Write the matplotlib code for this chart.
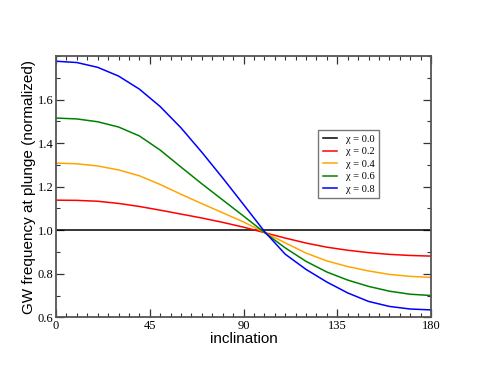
import numpy as np
import matplotlib
matplotlib.use("Agg")
import matplotlib.pyplot as plt
from matplotlib.ticker import MultipleLocator, FixedFormatter, FixedLocator

# inclination (deg) and normalized GW frequency at plunge
incl = [0, 10, 20, 30, 40, 50, 60, 70, 80, 90, 100, 110, 120, 130, 140, 150, 160, 170, 180]
chi_00 = [1.0] * len(incl)
chi_02 = [1.138, 1.137, 1.133, 1.123, 1.109, 1.092, 1.074, 1.056, 1.036, 1.014, 0.989,
          0.964, 0.941, 0.922, 0.908, 0.897, 0.889, 0.884, 0.881]
chi_04 = [1.308, 1.305, 1.295, 1.277, 1.250, 1.210, 1.165, 1.122, 1.080, 1.038, 0.990,
          0.942, 0.895, 0.859, 0.833, 0.813, 0.797, 0.788, 0.783]
chi_06 = [1.515, 1.511, 1.498, 1.474, 1.433, 1.368, 1.290, 1.213, 1.139, 1.065, 0.990,
          0.919, 0.857, 0.808, 0.771, 0.742, 0.720, 0.706, 0.700]
chi_08 = [1.776, 1.770, 1.748, 1.708, 1.648, 1.568, 1.470, 1.358, 1.240, 1.118, 0.995,
          0.890, 0.820, 0.762, 0.712, 0.673, 0.650, 0.638, 0.634]

series = [chi_00, chi_02, chi_04, chi_06, chi_08]
labels = ["χ = 0.0", "χ = 0.2", "χ = 0.4", "χ = 0.6", "χ = 0.8"]
colors = ["black", "red", "orange", "green", "blue"]

fig = plt.figure(figsize=(4.85, 3.74), dpi=100)
ax = fig.add_axes([56 / 485, 1 - 317.3 / 374, (431 - 56) / 485, (317.3 - 56) / 374])

for y, lab, c in zip(series, labels, colors):
    ax.plot(incl, y, color=c, lw=1.1, label=lab)

ax.set_xlim(0, 180)
ax.set_ylim(0.6, 1.8)

ax.xaxis.set_major_locator(MultipleLocator(45))
ax.xaxis.set_minor_locator(MultipleLocator(5))
ax.yaxis.set_major_locator(FixedLocator([0.6, 0.8, 1.0, 1.2, 1.4, 1.6]))
ax.yaxis.set_major_formatter(FixedFormatter(["0.6", "0.8", "1.0", "1.2", "1.4", "1.6"]))
ax.yaxis.set_minor_locator(MultipleLocator(0.1))

ax.tick_params(which="both", direction="in", top=True, right=True, color="#333333")
ax.tick_params(which="major", length=6, width=0.9, labelsize=9, pad=2)
ax.tick_params(which="minor", length=3, width=0.8)
for lbl in ax.get_xticklabels() + ax.get_yticklabels():
    lbl.set_family("Liberation Serif")

for s in ax.spines.values():
    s.set_color("#555555")
    s.set_linewidth(1.3)

ax.set_xlabel("inclination", family="Liberation Sans", fontsize=11, labelpad=0)
ax.set_ylabel("GW frequency at plunge (normalized)", family="Liberation Sans", fontsize=11, labelpad=1)

leg = ax.legend(loc="upper left", bbox_to_anchor=(318 / 485, 1 - 130 / 374),
                bbox_transform=fig.transFigure, frameon=True, fancybox=False,
                borderaxespad=0, prop={"family": "Liberation Serif", "size": 7.5},
                handlelength=1.4, handletextpad=0.8, labelspacing=0.3, borderpad=0.45)
leg.get_frame().set_edgecolor("#555555")
leg.get_frame().set_linewidth(1.0)

fig.savefig("out.png", dpi=100)
